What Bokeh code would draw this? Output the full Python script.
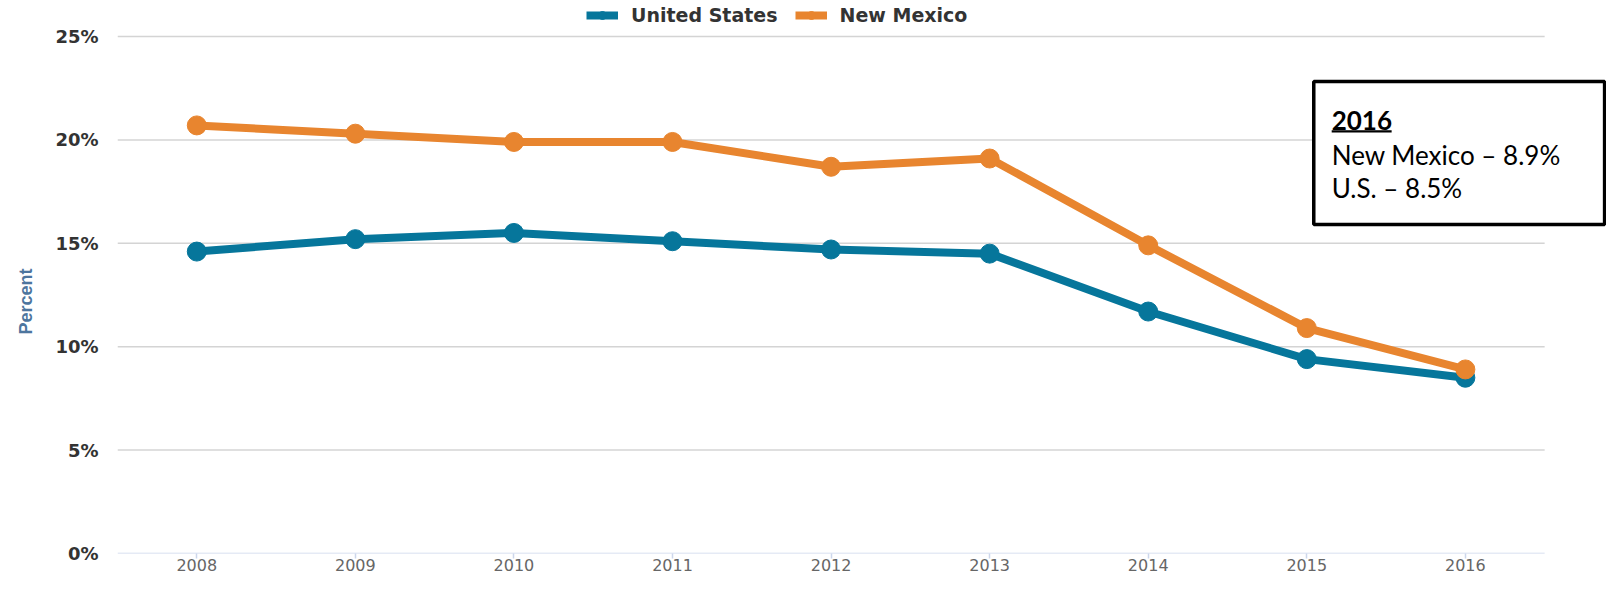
from bokeh.plotting import figure
from bokeh.models import (Range1d, FixedTicker, PrintfTickFormatter, Legend,
                          LegendItem, BoxAnnotation, Label, Title)
from bokeh.embed import file_html
from bokeh.resources import INLINE

years = [2008, 2009, 2010, 2011, 2012, 2013, 2014, 2015, 2016]
us_values = [14.6, 15.2, 15.5, 15.1, 14.7, 14.5, 11.7, 9.4, 8.5]
nm_values = [20.7, 20.3, 19.9, 19.9, 18.7, 19.1, 14.9, 10.9, 8.9]
y_ticks = [0, 5, 10, 15, 20, 25]
series_names = ["United States", "New Mexico"]
y_title = "Percent"
box_lines = ["2016", "New Mexico \u2013 8.9%", "U.S. \u2013 8.5%"]

US_COLOR = "#06769B"
NM_COLOR = "#E8852F"

x_lo, x_hi = years[0] - 0.5, years[-1] + 0.5
X_END = 2016.89

p = figure(width=1606, height=577, output_backend="svg", toolbar_location=None,
           x_range=Range1d(x_lo, X_END), y_range=Range1d(0, 26.74),
           min_border_left=116, min_border_right=0, min_border_top=0,
           min_border_bottom=24)
p.outline_line_color = None
p.background_fill_color = "white"

# grid (drawn only across the plot area)
p.xgrid.grid_line_color = None
p.ygrid.grid_line_color = None
grid_y = y_ticks[1:]
p.segment(x0=[x_lo] * len(grid_y), y0=grid_y, x1=[x_hi] * len(grid_y), y1=grid_y,
          line_color="#d4d4d4", line_width=1.5, level="underlay")
p.segment(x0=[x_lo], y0=[y_ticks[0]], x1=[x_hi], y1=[y_ticks[0]],
          line_color="#CCD6EB", line_width=1.5, level="underlay")

# y axis
p.yaxis.ticker = FixedTicker(ticks=y_ticks)
p.yaxis.formatter = PrintfTickFormatter(format="%d%%")
p.yaxis.axis_line_color = None
p.yaxis.major_tick_line_color = None
p.yaxis.minor_tick_line_color = None
p.yaxis.major_label_text_font = "DejaVu Sans"
p.yaxis.major_label_text_font_style = "bold"
p.yaxis.major_label_text_font_size = "18px"
p.yaxis.major_label_text_color = "#333333"
p.yaxis.major_label_standoff = 13

# y axis title (placed alongside the 0-25% span)
p.add_layout(Title(text=y_title, align="left", offset=219, standoff=30,
                   vertical_align="top",
                   text_font="Liberation Sans", text_font_style="bold",
                   text_font_size="18px", text_color="#4D759E"), "left")

# x axis
p.xaxis.ticker = FixedTicker(ticks=years)
p.xaxis.formatter = PrintfTickFormatter(format="%d")
p.xaxis.axis_line_color = None
p.xaxis.major_tick_line_color = "#CCD6EB"
p.xaxis.major_tick_line_width = 1.5
p.xaxis.major_tick_out = 5
p.xaxis.major_tick_in = 0
p.xaxis.minor_tick_line_color = None
p.xaxis.major_label_text_font = "DejaVu Sans"
p.xaxis.major_label_text_font_size = "16px"
p.xaxis.major_label_text_color = "#666666"
p.xaxis.major_label_standoff = 0

# series
l_us = p.line(years, us_values, line_color=US_COLOR, line_width=8)
s_us = p.scatter(years, us_values, size=19, fill_color=US_COLOR, line_color=US_COLOR)
l_nm = p.line(years, nm_values, line_color=NM_COLOR, line_width=8)
s_nm = p.scatter(years, nm_values, size=19, fill_color=NM_COLOR, line_color=NM_COLOR)

legend = Legend(items=[LegendItem(label=series_names[0], renderers=[l_us, s_us]),
                       LegendItem(label=series_names[1], renderers=[l_nm, s_nm])],
                orientation="horizontal", location=(469, 527),
                label_text_font="DejaVu Sans", label_text_font_style="bold",
                label_text_font_size="19px", label_text_color="#333333",
                glyph_width=32, glyph_height=20, label_standoff=13, spacing=17,
                padding=0, margin=0, border_line_color=None,
                background_fill_alpha=0)
p.add_layout(legend)

# annotation box
box = BoxAnnotation(left=2015.044, right=X_END - 0.012, top=22.82, bottom=15.91,
                    fill_color="white", fill_alpha=1.0,
                    line_color="black", line_alpha=1.0, line_width=3.5)
p.add_layout(box)

ys = [20.94, 19.29, 17.65]
for i, txt in enumerate(box_lines):
    p.add_layout(Label(x=2015.157, y=ys[i], text=txt, text_font="Lato",
                       text_font_size="26px", text_baseline="middle",
                       text_font_style="bold" if i == 0 else "normal",
                       text_color="black"))
underline = BoxAnnotation(left=2015.157, right=2015.535, top=20.46, bottom=20.36,
                          fill_color="black", fill_alpha=1.0, line_color=None)
p.add_layout(underline)

open("out.html", "w").write(file_html(p, INLINE))
